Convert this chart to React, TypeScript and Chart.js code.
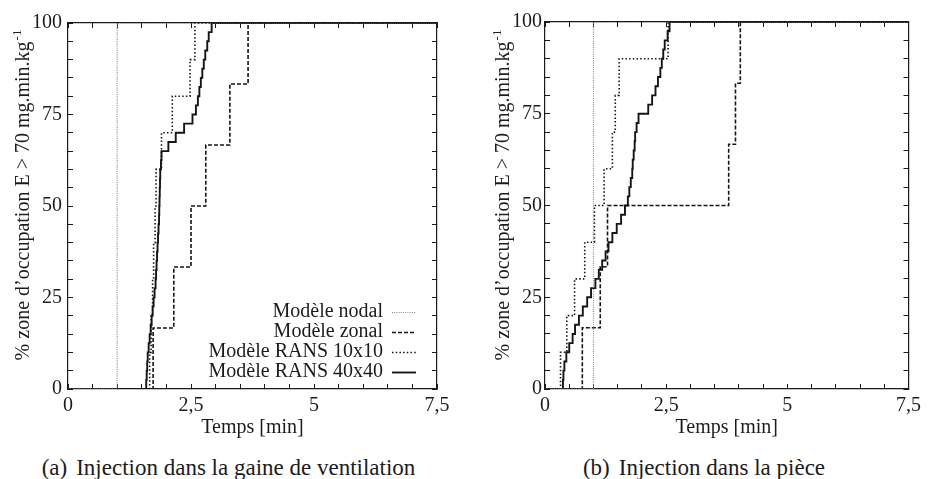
import React, { useEffect, useRef } from "react";
import { Chart, registerables } from "chart.js";

Chart.register(...registerables);

const FONT = '"Liberation Serif", "Times New Roman", Times, serif';
const TEXT = "#1c1c1c";
const AXIS = "#1a1a1a";

// ---------- labels ----------
const seriesLabels = ["Modèle nodal", "Modèle zonal", "Modèle RANS 10x10", "Modèle RANS 40x40"];
const xTickValues = [0, 2.5, 5, 7.5];
const xTickLabels = ["0", "2,5", "5", "7,5"];
const yTickValues = [0, 25, 50, 75, 100];
const yTickLabels = ["0", "25", "50", "75", "100"];
const xTitle = "Temps [min]";
const yTitleMain = "% zone d’occupation E > 70 mg.min.kg";
const yTitleSup = "-1";
const captionA = ["(a)", "Injection dans la gaine de ventilation"];
const captionB = ["(b)", "Injection dans la pièce"];

// ---------- (a) Injection dans la gaine de ventilation ----------
const nodalA_t = [0, 1.0, 7.5];
const nodalA_v = [0, 100, 100];
const zonalA_t = [0, 1.73, 2.15, 2.5, 2.8, 3.29, 3.66, 7.5];
const zonalA_v = [0, 16.67, 33.33, 50, 66.67, 83.33, 100, 100];
const rans10A_t = [0, 1.66, 1.69, 1.72, 1.74, 1.77, 1.79, 1.9, 2.12, 2.48, 2.58, 7.5];
const rans10A_v = [0, 10, 20, 30, 40, 50, 60, 70, 80, 90, 100, 100];
const rans40A_t = [0, 1.59, 1.6, 1.61, 1.62, 1.64, 1.66, 1.68, 1.7, 1.72, 1.74, 1.76, 1.78, 1.79, 1.8, 1.81, 1.82, 1.83, 1.84, 1.85, 1.855, 1.86, 1.865, 1.87, 1.875, 1.89, 1.9, 2.04, 2.19, 2.36, 2.53, 2.6, 2.64, 2.67, 2.7, 2.73, 2.76, 2.79, 2.83, 2.86, 2.92, 7.5];
const rans40A_v = [0, 2.5, 5, 7.5, 10, 12.5, 15, 17.5, 20, 22.5, 25, 27.5, 30, 32.5, 35, 37.5, 40, 42.5, 45, 47.5, 50, 52.5, 55, 57.5, 60, 62.5, 65, 67.5, 70, 72.5, 75, 77.5, 80, 82.5, 85, 87.5, 90, 92.5, 95, 97.5, 100, 100];

// ---------- (b) Injection dans la pièce ----------
const nodalB_t = [0, 1.0, 7.5];
const nodalB_v = [0, 100, 100];
const zonalB_t = [0, 0.77, 1.14, 1.29, 3.79, 3.93, 4.03, 7.5];
const zonalB_v = [0, 16.67, 33.33, 50, 66.67, 83.33, 100, 100];
const rans10B_t = [0, 0.32, 0.45, 0.61, 0.82, 1.02, 1.22, 1.39, 1.45, 1.53, 2.54, 7.5];
const rans10B_v = [0, 10, 20, 30, 40, 50, 60, 70, 80, 90, 100, 100];
const rans40B_t = [0, 0.37, 0.38, 0.4, 0.44, 0.5, 0.57, 0.62, 0.7, 0.78, 0.87, 0.95, 1.04, 1.11, 1.18, 1.25, 1.31, 1.39, 1.48, 1.57, 1.65, 1.71, 1.74, 1.77, 1.8, 1.81, 1.83, 1.85, 1.86, 1.89, 1.93, 2.13, 2.21, 2.28, 2.33, 2.38, 2.41, 2.44, 2.47, 2.53, 2.57, 7.5];
const rans40B_v = [0, 2.5, 5, 7.5, 10, 12.5, 15, 17.5, 20, 22.5, 25, 27.5, 30, 32.5, 35, 37.5, 40, 42.5, 45, 47.5, 50, 52.5, 55, 57.5, 60, 62.5, 65, 67.5, 70, 72.5, 75, 77.5, 80, 82.5, 85, 87.5, 90, 92.5, 95, 97.5, 100, 100];

const seriesStyles = [
  { color: "#8a8a8a", width: 1.2, dash: [1, 1.2] },
  { color: "#151515", width: 1.6, dash: [4, 2] },
  { color: "#151515", width: 1.6, dash: [1.5, 2.2] },
  { color: "#151515", width: 1.9, dash: [] as number[] },
];

function pts(t: number[], v: number[]) {
  return t.map((x, i) => ({ x, y: v[i] }));
}

function labelFor(value: number, values: number[], labels: string[]) {
  const i = values.findIndex((t) => Math.abs(t - value) < 1e-6);
  return i >= 0 ? labels[i] : "";
}

const yTitlePlugin = {
  id: "ytitle",
  afterDraw(chart: any, _args: any, opts: any) {
    if (!opts || !opts.show) return;
    const ctx = chart.ctx;
    ctx.save();
    ctx.fillStyle = TEXT;
    ctx.textBaseline = "alphabetic";
    ctx.textAlign = "left";
    const mainFont = `20px ${FONT}`;
    const supFont = `13px ${FONT}`;
    ctx.font = mainFont;
    const wm = ctx.measureText(yTitleMain).width;
    ctx.font = supFont;
    const ws = ctx.measureText(yTitleSup).width;
    const total = wm + ws + 1;
    ctx.translate(opts.x, opts.cy);
    ctx.rotate(-Math.PI / 2);
    ctx.font = mainFont;
    ctx.fillText(yTitleMain, -total / 2, 0);
    ctx.font = supFont;
    ctx.fillText(yTitleSup, -total / 2 + wm + 1, -8);
    ctx.restore();
  },
};

const legendPlugin = {
  id: "inlegend",
  afterDraw(chart: any, _args: any, opts: any) {
    if (!opts || !opts.show) return;
    const ctx = chart.ctx;
    ctx.save();
    ctx.font = `20px ${FONT}`;
    ctx.textAlign = "right";
    ctx.textBaseline = "alphabetic";
    chart.data.datasets.forEach((ds: any, i: number) => {
      const yb = opts.firstBaseline + i * opts.gap;
      ctx.fillStyle = TEXT;
      ctx.fillText(ds.label, opts.textRight, yb);
      ctx.beginPath();
      ctx.strokeStyle = ds.borderColor;
      ctx.lineWidth = ds.borderWidth;
      ctx.setLineDash(ds.borderDash || []);
      ctx.moveTo(opts.sx0, yb - 4.5);
      ctx.lineTo(opts.sx1, yb - 4.5);
      ctx.stroke();
    });
    ctx.restore();
  },
};

type PanelCfg = {
  series: { t: number[]; v: number[] }[];
  axisLeft: number;
  padRight: number;
  yPad: number;
  titleX: number;
  legend: boolean;
};

function makeConfig(p: PanelCfg): any {
  const grid = {
    drawOnChartArea: false,
    drawTicks: true,
    tickLength: -5,
    color: AXIS,
    lineWidth: 1,
  };
  const border = { display: true, color: AXIS, width: 1.2 };
  const tickFont = { family: FONT, size: 20 };
  return {
    type: "line",
    data: {
      datasets: p.series.map((s, i) => ({
        label: seriesLabels[i],
        data: pts(s.t, s.v),
        borderColor: seriesStyles[i].color,
        borderWidth: seriesStyles[i].width,
        borderDash: seriesStyles[i].dash,
        stepped: "before",
        pointRadius: 0,
        fill: false,
        tension: 0,
        xAxisID: "x",
        yAxisID: "y",
      })),
    },
    options: {
      responsive: false,
      animation: false,
      devicePixelRatio: 1,
      layout: { padding: { left: 0, top: 22, right: p.padRight, bottom: 0 } },
      plugins: {
        legend: { display: false },
        tooltip: { enabled: false },
        ytitle: { show: true, x: p.titleX, cy: 195 },
        inlegend: { show: p.legend, firstBaseline: 317, gap: 20, textRight: 383, sx0: 392, sx1: 416 },
      },
      scales: {
        x: {
          type: "linear",
          position: "bottom",
          min: 0,
          max: 7.5,
          grid,
          border,
          ticks: {
            stepSize: 0.5,
            autoSkip: false,
            maxRotation: 0,
            color: TEXT,
            font: tickFont,
            padding: 10,
            callback: (v: number) => labelFor(v, xTickValues, xTickLabels),
          },
          title: { display: true, text: xTitle, color: TEXT, font: tickFont, padding: { top: 0, bottom: 10 } },
          afterFit: (s: any) => {
            s.height = 61;
          },
        },
        x2: {
          type: "linear",
          position: "top",
          min: 0,
          max: 7.5,
          grid,
          border,
          ticks: { display: false, stepSize: 0.5, autoSkip: false },
          afterFit: (s: any) => {
            s.height = 0;
          },
        },
        y: {
          type: "linear",
          position: "left",
          min: 0,
          max: 100,
          grid,
          border,
          ticks: {
            stepSize: 5,
            autoSkip: false,
            color: TEXT,
            font: tickFont,
            padding: p.yPad,
            callback: (v: number) => labelFor(v, yTickValues, yTickLabels),
          },
          afterFit: (s: any) => {
            s.width = p.axisLeft;
          },
        },
        y2: {
          type: "linear",
          position: "right",
          min: 0,
          max: 100,
          grid,
          border,
          ticks: { display: false, stepSize: 5, autoSkip: false },
          afterFit: (s: any) => {
            s.width = 0;
          },
        },
      },
    },
    plugins: [yTitlePlugin, legendPlugin],
  };
}

export default function App() {
  const refA = useRef<HTMLCanvasElement | null>(null);
  const refB = useRef<HTMLCanvasElement | null>(null);

  useEffect(() => {
    const cfgA = makeConfig({
      series: [
        { t: nodalA_t, v: nodalA_v },
        { t: zonalA_t, v: zonalA_v },
        { t: rans10A_t, v: rans10A_v },
        { t: rans40A_t, v: rans40A_v },
      ],
      axisLeft: 68,
      padRight: 465 - 437,
      yPad: 11,
      titleX: 28.5,
      legend: true,
    });
    const cfgB = makeConfig({
      series: [
        { t: nodalB_t, v: nodalB_v },
        { t: zonalB_t, v: zonalB_v },
        { t: rans10B_t, v: rans10B_v },
        { t: rans40B_t, v: rans40B_v },
      ],
      axisLeft: 80,
      padRight: 466 - 447,
      yPad: 8,
      titleX: 43.5,
      legend: false,
    });
    const a = new Chart(refA.current as HTMLCanvasElement, cfgA);
    const b = new Chart(refB.current as HTMLCanvasElement, cfgB);
    return () => {
      a.destroy();
      b.destroy();
    };
  }, []);

  const capStyle: React.CSSProperties = {
    position: "absolute",
    top: 456,
    transform: "translateX(-50%)",
    fontFamily: FONT,
    fontSize: 23,
    lineHeight: "23px",
    whiteSpace: "nowrap",
    color: TEXT,
  };

  return (
    <div style={{ position: "absolute", left: 0, top: 0, width: 931, height: 479, background: "#fff", overflow: "hidden" }}>
      <canvas ref={refA} width={465} height={450} style={{ position: "absolute", left: 0, top: 0, display: "block" }} />
      <canvas ref={refB} width={466} height={450} style={{ position: "absolute", left: 465, top: 0, display: "block" }} />
      <div style={{ ...capStyle, left: 228.5 }}>
        <span>{captionA[0]}</span>
        <span style={{ marginLeft: 9 }}>{captionA[1]}</span>
      </div>
      <div style={{ ...capStyle, left: 704 }}>
        <span>{captionB[0]}</span>
        <span style={{ marginLeft: 9 }}>{captionB[1]}</span>
      </div>
    </div>
  );
}
